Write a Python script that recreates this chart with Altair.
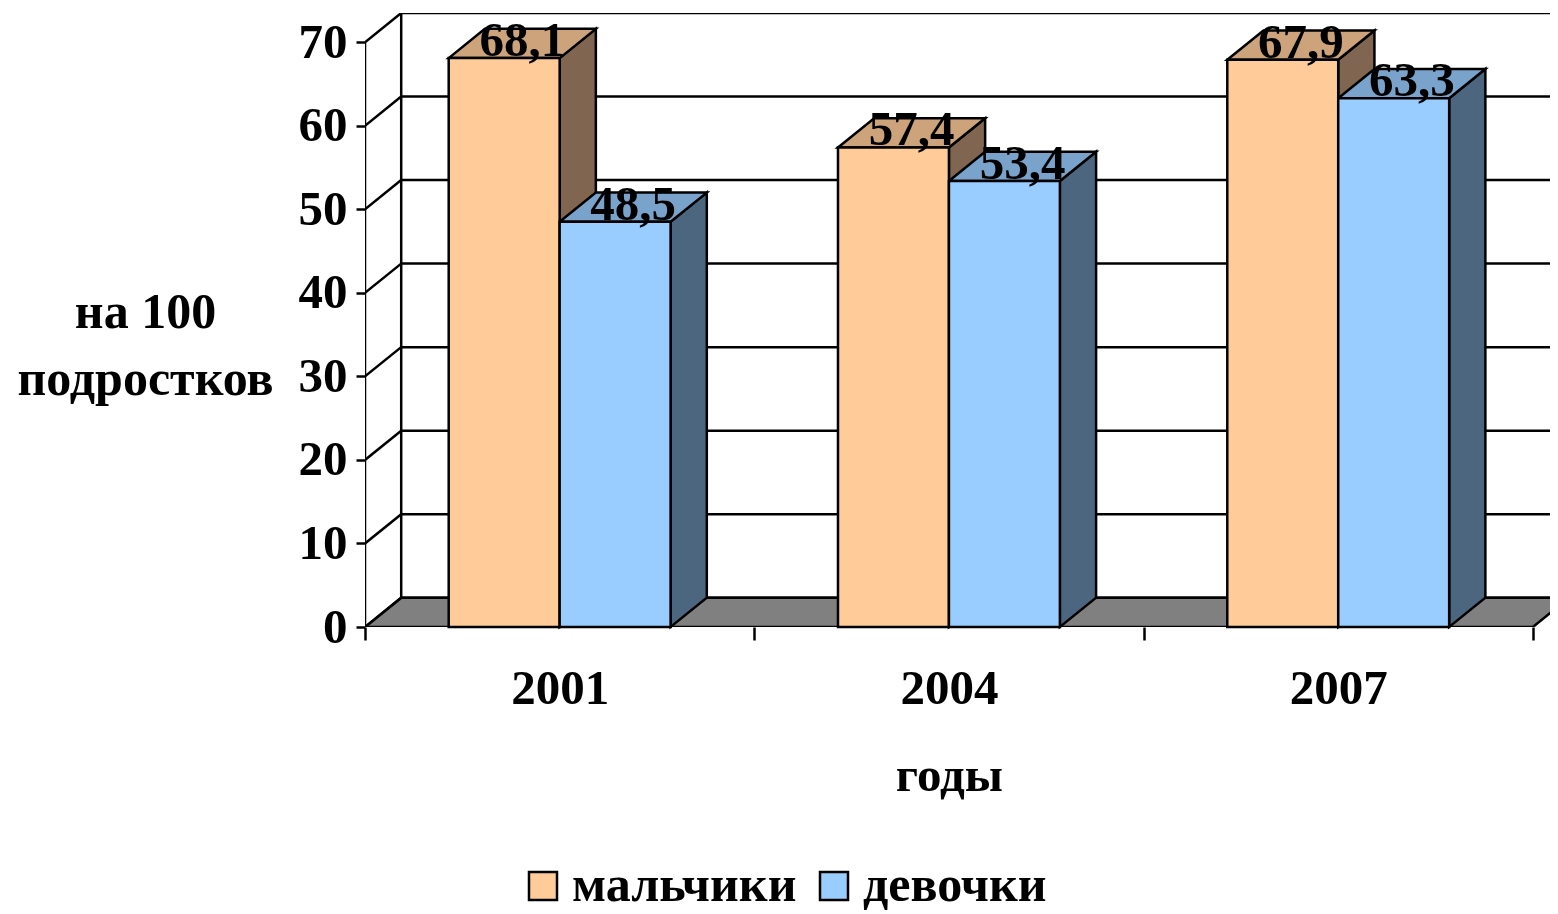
import json
import altair as alt
import pandas as pd

# ---- data ----
years = ["2001", "2004", "2007"]
series = ["мальчики", "девочки"]
boys = [68.1, 57.4, 67.9]
girls = [48.5, 53.4, 63.3]
y_ticks = [0, 10, 20, 30, 40, 50, 60, 70]

front_colors = ["#FFCC99", "#99CCFF"]
top_colors = ["#CCA37A", "#7AA3CC"]
side_colors = ["#806650", "#4D6680"]

# ---- pseudo-3D geometry (in data units) ----
W = 0.285      # bar width (category units)
DX = 0.093     # depth shift along x
DY = 3.5       # depth shift along y
XMAX = 3.044
YMAX = y_ticks[-1] + DY
FONT = "Liberation Serif"
SW = 2.5

values = [boys, girls]
front_rows, side_rows, top_rows, label_rows = [], [], [], []
for i, yr in enumerate(years):
    for j, s in enumerate(series):
        v = values[j][i]
        l = i + 0.5 + (j - 1) * W
        r = l + W
        bid = f"{yr}-{j}"
        front_rows.append(dict(x=l, x2=r, y=0, y2=v, s=s))
        side_rows += [
            dict(id=bid, x=r, y=v, y2=0, c=side_colors[j]),
            dict(id=bid, x=r + DX, y=v + DY, y2=DY, c=side_colors[j]),
        ]
        top_rows += [
            dict(id=bid, x=l, y=v, y2=v, c=top_colors[j]),
            dict(id=bid, x=l + DX, y=v + DY, y2=v, c=top_colors[j]),
            dict(id=bid, x=r, y=v + DY, y2=v, c=top_colors[j]),
            dict(id=bid, x=r + DX, y=v + DY, y2=v + DY, c=top_colors[j]),
        ]
        label_rows.append(dict(x=(l + r) / 2 + DX / 2, y=v,
                               t=f"{v:.1f}".replace(".", ",")))

n = len(years)
floor_rows = [
    dict(id="floor", x=0, y=0, y2=0),
    dict(id="floor", x=DX, y=DY, y2=0),
    dict(id="floor", x=n, y=DY, y2=0),
    dict(id="floor", x=n + DX, y=DY, y2=DY),
]

rule_rows = []
for v in y_ticks:
    rule_rows.append(dict(x=0, x2=DX, y=v, y2=v + DY))          # left wall
    rule_rows.append(dict(x=DX, x2=XMAX, y=v + DY, y2=v + DY))  # back grid
rule_rows.append(dict(x=0, x2=0, y=0, y2=y_ticks[-1]))          # front axis
rule_rows.append(dict(x=DX, x2=DX, y=DY, y2=YMAX))              # back wall edge

front_df = pd.DataFrame(front_rows)
side_df = pd.DataFrame(side_rows)
top_df = pd.DataFrame(top_rows)
floor_df = pd.DataFrame(floor_rows)
rule_df = pd.DataFrame(rule_rows)
label_df = pd.DataFrame(label_rows)

xscale = alt.Scale(domain=[0, XMAX], nice=False, zero=False)
yscale = alt.Scale(domain=[0, YMAX], nice=False, zero=False)

label_expr = (
    f"datum.value % 1 === 0 ? '' : {json.dumps(years)}[floor(datum.value)]"
)

x_axis = alt.Axis(
    values=[0, 0.5, 1, 1.5, 2, 2.5, 3],
    labelExpr=label_expr,
    domain=False,
    grid=False,
    tickSize=13,
    tickWidth=SW,
    tickColor="black",
    tickOpacity={"condition": {"test": "datum.value % 1 !== 0", "value": 0}, "value": 1},
    labelFont=FONT, labelFontWeight="bold", labelFontSize=49, labelColor="black",
    labelPadding=24,
    title="годы",
    titleFont=FONT, titleFontWeight="bold", titleFontSize=49, titleColor="black",
    titleX=1.5 * 389.3, titleY=163, titleBaseline="alphabetic", titleAlign="center",
)
y_axis = alt.Axis(
    values=y_ticks,
    domain=False,
    grid=False,
    tickSize=9,
    tickWidth=SW,
    tickColor="black",
    labelFont=FONT, labelFontWeight="bold", labelFontSize=49, labelColor="black",
    labelPadding=9, labelBaseline="middle",
    title=["на 100", "подростков"],
    titleFont=FONT, titleFontWeight="bold", titleFontSize=50, titleColor="black",
    titleAngle=0, titleAlign="center", titleBaseline="alphabetic",
    titleX=-220, titleY=314, titleLineHeight=67,
)

X = alt.X("x:Q", scale=xscale, axis=x_axis)
Y = alt.Y("y:Q", scale=yscale, axis=y_axis)

floor = alt.Chart(floor_df).mark_area(
    orient="vertical", fill="#808080", stroke="black", strokeWidth=SW, clip=True
).encode(x=X, y=Y, y2="y2:Q", detail="id:N")

rules = alt.Chart(rule_df).mark_rule(color="black", strokeWidth=SW, clip=True).encode(
    x=X, x2="x2:Q", y=Y, y2="y2:Q"
)

sides = alt.Chart(side_df).mark_area(
    orient="vertical", stroke="black", strokeWidth=SW
).encode(x=X, y=Y, y2="y2:Q", detail="id:N", fill=alt.Fill("c:N", scale=None))

tops = alt.Chart(top_df).mark_area(
    orient="vertical", stroke="black", strokeWidth=SW
).encode(x=X, y=Y, y2="y2:Q", detail="id:N", fill=alt.Fill("c:N", scale=None))

fronts = alt.Chart(front_df).mark_rect(stroke="black", strokeWidth=SW).encode(
    x=X,
    x2="x2:Q",
    y=Y,
    y2="y2:Q",
    color=alt.Color(
        "s:N",
        scale=alt.Scale(domain=series, range=front_colors),
        sort=series,
        legend=alt.Legend(
            title=None,
            orient="none",
            direction="horizontal",
            legendX=153,
            legendY=848,
            symbolType="square",
            symbolSize=784,
            symbolStrokeColor="black",
            symbolStrokeWidth=SW,
            symbolOpacity=1,
            labelFont=FONT,
            labelFontWeight="bold",
            labelFontSize=50,
            labelColor="black",
            labelOffset=4,
            labelLimit=0,
            columnPadding=12,
        ),
    ),
)

labels = alt.Chart(label_df).mark_text(
    font=FONT, fontWeight="bold", fontSize=49, baseline="alphabetic",
    align="center", dy=-2, color="black"
).encode(x=X, y=Y, text="t:N")

chart = alt.layer(floor, rules, sides, tops, fronts, labels).properties(
    width=1185,
    height=614,
    padding={"left": 357, "top": 5, "right": 0, "bottom": 287},
    autosize=alt.AutoSizeParams(type="none"),
    background="white",
).configure_view(stroke=None)

chart.save("out.html", embed_options={"renderer": "svg", "actions": False})
